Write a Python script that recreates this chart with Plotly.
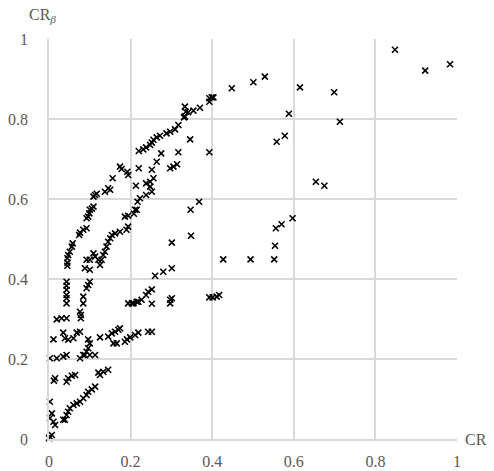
import plotly.graph_objects as go

# CR values (x) and CR_beta values (y)
cr = [
    0.848, 0.922, 0.983, 0.713, 0.699, 0.615, 0.529, 0.501, 0.448, 0.393, 0.399, 0.403, 0.393,
    0.370, 0.354, 0.341, 0.333, 0.333, 0.335, 0.331, 0.317, 0.309, 0.297, 0.288, 0.272, 0.264,
    0.256, 0.252, 0.248, 0.238, 0.231, 0.220, 0.346,
    0.317, 0.275, 0.264, 0.314, 0.305, 0.297, 0.252, 0.220,
    0.174, 0.178, 0.192, 0.194, 0.156,
    0.256, 0.248, 0.238, 0.248, 0.252, 0.213,
    0.145, 0.137, 0.117, 0.109, 0.150, 0.113,
    0.238, 0.223, 0.217, 0.215, 0.208, 0.194, 0.186, 0.211,
    0.109, 0.105, 0.100, 0.099, 0.096, 0.092,
    0.347, 0.368, 0.348,
    0.588, 0.558, 0.578, 0.393, 0.654, 0.675,
    0.597, 0.570, 0.556, 0.554, 0.552, 0.494, 0.427,
    0.393, 0.401, 0.411, 0.417,
    0.092, 0.084, 0.076, 0.074,
    0.058, 0.056, 0.051, 0.047, 0.045, 0.045, 0.045,
    0.194, 0.190, 0.174, 0.162, 0.154, 0.150, 0.145, 0.141, 0.137, 0.133, 0.129, 0.125,
    0.109, 0.113, 0.100, 0.092, 0.088, 0.100, 0.121,
    0.301, 0.301, 0.280, 0.260,
    0.043, 0.043, 0.043, 0.043, 0.043, 0.043,
    0.100, 0.096, 0.092, 0.084, 0.084,
    0.194, 0.203, 0.215,
    0.252, 0.243, 0.238, 0.227, 0.219, 0.207, 0.252, 0.297, 0.301, 0.297,
    0.019, 0.031, 0.043,
    0.076, 0.078, 0.078,
    0.011, 0.035, 0.039, 0.047, 0.060, 0.068, 0.076,
    0.096, 0.100, 0.096, 0.092, 0.088,
    0.125, 0.145, 0.154, 0.162, 0.170, 0.174,
    0.158, 0.166, 0.186, 0.191, 0.199, 0.211, 0.219, 0.243, 0.252,
    0.002, 0.019, 0.035, 0.043, 0.076, 0.084, 0.100, 0.113,
    0.015, 0.012, 0.047, 0.043, 0.056, 0.064,
    0.125, 0.121, 0.133, 0.145,
    0.113, 0.105, 0.096, 0.092, 0.084, 0.076, 0.068, 0.060, 0.051, 0.047, 0.043, 0.039, 0.035,
    0.002, 0.007, 0.002, 0.011, 0.015, 0.002, 0.007, 0.000,
]
cr_beta = [
    0.973, 0.921, 0.937, 0.793, 0.867, 0.879, 0.906, 0.892, 0.877, 0.852, 0.854, 0.854, 0.843,
    0.828, 0.821, 0.817, 0.831, 0.806, 0.818, 0.804, 0.785, 0.774, 0.768, 0.764, 0.758, 0.754,
    0.748, 0.741, 0.735, 0.729, 0.724, 0.720, 0.749,
    0.717, 0.714, 0.693, 0.687, 0.681, 0.677, 0.673, 0.677,
    0.681, 0.675, 0.668, 0.660, 0.652,
    0.652, 0.643, 0.639, 0.631, 0.618, 0.633,
    0.627, 0.618, 0.613, 0.606, 0.623, 0.610,
    0.610, 0.602, 0.593, 0.573, 0.563, 0.558, 0.556, 0.573,
    0.581, 0.576, 0.573, 0.564, 0.556, 0.552,
    0.573, 0.593, 0.508,
    0.813, 0.743, 0.758, 0.717, 0.643, 0.633,
    0.552, 0.537, 0.527, 0.483, 0.449, 0.449, 0.449,
    0.354, 0.354, 0.356, 0.360,
    0.527, 0.523, 0.516, 0.510,
    0.489, 0.481, 0.468, 0.460, 0.452, 0.441, 0.433,
    0.531, 0.523, 0.518, 0.514, 0.510, 0.502, 0.493, 0.481, 0.468, 0.460, 0.448, 0.435,
    0.464, 0.456, 0.448, 0.448, 0.427, 0.423, 0.448,
    0.491, 0.427, 0.418, 0.408,
    0.393, 0.383, 0.373, 0.360, 0.352, 0.339,
    0.393, 0.385, 0.377, 0.356, 0.339,
    0.339, 0.339, 0.343,
    0.374, 0.368, 0.360, 0.348, 0.343, 0.339, 0.338, 0.348, 0.352, 0.339,
    0.299, 0.302, 0.302,
    0.318, 0.310, 0.302,
    0.249, 0.266, 0.252, 0.248, 0.252, 0.266, 0.268,
    0.249, 0.239, 0.227, 0.218, 0.210,
    0.254, 0.256, 0.264, 0.268, 0.273, 0.277,
    0.239, 0.239, 0.243, 0.249, 0.254, 0.260, 0.266, 0.268, 0.268,
    0.202, 0.202, 0.206, 0.210, 0.202, 0.210, 0.210, 0.210,
    0.152, 0.146, 0.152, 0.143, 0.158, 0.160,
    0.160, 0.166, 0.168, 0.173,
    0.131, 0.124, 0.118, 0.110, 0.102, 0.093, 0.089, 0.085, 0.077, 0.068, 0.060, 0.048, 0.048,
    0.093, 0.064, 0.052, 0.043, 0.035, 0.006, 0.010, 0.002,
]

tick_vals = [0, 0.2, 0.4, 0.6, 0.8, 1]
tick_text = ["0", "0.2", "0.4", "0.6", "0.8", "1"]

FONT = "Liberation Serif"
GREY = "#595959"
GRID = "#d9d9d9"

fig = go.Figure(
    go.Scatter(
        x=cr, y=cr_beta, mode="markers", cliponaxis=False,
        marker=dict(symbol="x-thin", size=6, color="black",
                    line=dict(color="black", width=1.6)),
        showlegend=False,
    )
)

axis_common = dict(
    range=[0, 1], tickvals=tick_vals, ticktext=tick_text,
    showgrid=True, gridcolor=GRID, gridwidth=1.5,
    showline=True, linecolor=GRID, linewidth=1.5,
    zeroline=False, ticks="", fixedrange=True, automargin=False,
    tickfont=dict(family=FONT, size=16, color=GREY),
)

fig.update_layout(
    width=494, height=471,
    margin=dict(l=49, r=37, t=39, b=32),
    paper_bgcolor="white", plot_bgcolor="white",
    xaxis=dict(**axis_common, ticklabelstandoff=7),
    yaxis=dict(**axis_common, ticklabelstandoff=16),
    annotations=[
        dict(text="CR", xref="paper", yref="paper", x=1, y=0, xshift=6,
             xanchor="left", yanchor="middle", showarrow=False,
             font=dict(family=FONT, size=16, color=GREY)),
        dict(text="CR<sub><i>β</i></sub>", xref="paper", yref="paper", x=0, y=1,
             xshift=-22, yshift=12, xanchor="left", yanchor="bottom", showarrow=False,
             font=dict(family=FONT, size=16, color=GREY)),
    ],
)

fig.write_html("out.html")
